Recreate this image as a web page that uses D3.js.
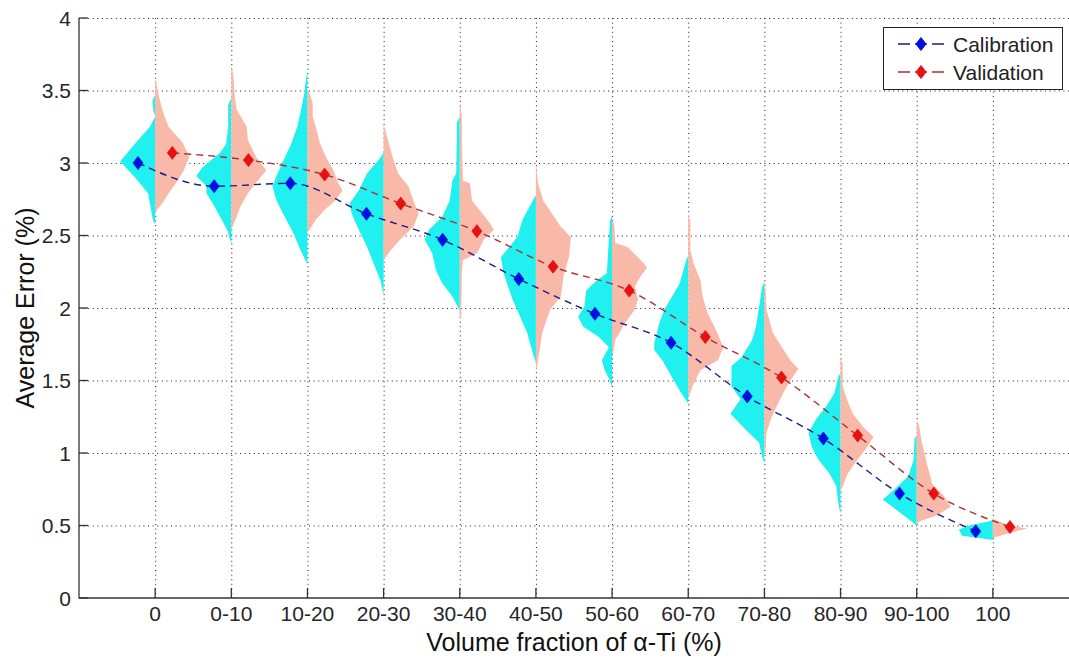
<!DOCTYPE html>
<html lang="en">
<head>
<meta charset="UTF-8">
<title>Average Error vs Volume fraction of alpha-Ti</title>
<script src="https://d3js.org/d3.v7.min.js"></script>
<style>
    body { margin: 0; background: #fff; }
    svg { display: block; font-family: "Liberation Sans", Arial, sans-serif; }
    .tick-label { fill: #262626; font-size: 21px; }
    .axis-title { fill: #111; font-size: 25px; }
    .legend-text { fill: #222; font-size: 21px; }
</style>
</head>
<body>
<div id="chart"></div>
<script>
// ---- data ----
const categories = ["0", "0-10", "10-20", "20-30", "30-40", "40-50", "50-60", "60-70", "70-80", "80-90", "90-100", "100"];
const seriesNames = ["Calibration", "Validation"];
const calMean = [3.00, 2.84, 2.86, 2.65, 2.47, 2.20, 1.96, 1.76, 1.39, 1.10, 0.72, 0.46];
const valMean = [3.07, 3.02, 2.92, 2.72, 2.53, 2.285, 2.12, 1.80, 1.52, 1.12, 0.72, 0.49];
const yTicks = [0, 0.5, 1, 1.5, 2, 2.5, 3, 3.5, 4];

// density profiles, [error value, relative density]
const calDensity = [
    [[3.47,0],[3.43,0.08],[3.36,0.05],[3.32,0],[3.25,0.15],[3.13,0.59],[3.01,1.0],[2.906,0.59],[2.79,0.2],[2.72,0.15],[2.6,0.06],[2.58,0]],
    [[3.45,0],[3.40,0.09],[3.25,0.09],[3.13,0.15],[3.07,0.32],[2.97,0.82],[2.91,1.0],[2.84,0.71],[2.79,0.71],[2.72,0.53],[2.63,0.32],[2.54,0.12],[2.44,0]],
    [[3.64,0],[3.55,0.06],[3.48,0.09],[3.37,0.18],[3.25,0.29],[3.13,0.47],[3.02,0.68],[2.93,0.85],[2.84,1.0],[2.74,0.88],[2.63,0.65],[2.52,0.41],[2.40,0.2],[2.30,0]],
    [[3.08,0],[3.04,0.08],[2.93,0.47],[2.81,0.71],[2.72,0.97],[2.65,0.91],[2.54,0.71],[2.42,0.47],[2.31,0.29],[2.19,0.09],[2.09,0]],
    [[3.32,0],[3.28,0.08],[2.93,0.1],[2.88,0.21],[2.74,0.29],[2.63,0.5],[2.54,0.88],[2.47,1.0],[2.38,0.79],[2.26,0.68],[2.17,0.5],[2.08,0.21],[1.98,0]],
    [[2.78,0],[2.74,0.09],[2.61,0.38],[2.49,0.53],[2.35,1.0],[2.24,0.92],[2.15,0.8],[2.06,0.67],[1.94,0.45],[1.83,0.25],[1.69,0.09],[1.62,0]],
    [[2.64,0],[2.60,0.06],[2.24,0.15],[2.19,0.44],[2.12,0.74],[2.01,0.79],[1.94,0.97],[1.87,0.82],[1.80,0.38],[1.73,0.09],[1.64,0.29],[1.57,0.21],[1.50,0.06],[1.45,0]],
    [[2.36,0],[2.33,0.06],[2.17,0.24],[1.99,0.68],[1.90,0.82],[1.76,0.97],[1.71,0.97],[1.64,0.74],[1.55,0.53],[1.43,0.24],[1.34,0]],
    [[2.18,0],[2.15,0.06],[2.01,0.15],[1.87,0.24],[1.78,0.35],[1.66,0.65],[1.60,0.94],[1.46,0.94],[1.37,0.68],[1.27,0.97],[1.16,0.53],[1.07,0.15],[0.97,0.06],[0.93,0]],
    [[1.55,0],[1.53,0.06],[1.41,0.18],[1.32,0.41],[1.23,0.71],[1.14,0.91],[1.04,0.82],[0.95,0.62],[0.86,0.32],[0.77,0.12],[0.70,0.09],[0.61,0.03],[0.58,0]],
    [[1.12,0],[1.10,0.06],[0.95,0.09],[0.84,0.24],[0.74,0.68],[0.68,0.97],[0.61,0.59],[0.54,0.21],[0.50,0]],
    [[0.54,0],[0.53,0.09],[0.50,0.68],[0.47,0.97],[0.43,0.88],[0.41,0.29],[0.40,0]]
];
const valDensity = [
    [[3.60,0],[3.48,0.09],[3.37,0.2],[3.25,0.38],[3.14,0.79],[3.04,0.97],[2.95,0.82],[2.86,0.59],[2.79,0.38],[2.72,0.2],[2.68,0.06],[2.65,0]],
    [[3.68,0],[3.60,0.06],[3.48,0.09],[3.37,0.15],[3.25,0.44],[3.16,0.47],[3.04,0.71],[2.95,1.0],[2.88,0.76],[2.79,0.47],[2.70,0.26],[2.61,0.12],[2.54,0]],
    [[3.50,0],[3.48,0.06],[3.41,0.15],[3.32,0.15],[3.23,0.26],[3.14,0.35],[3.04,0.53],[2.95,0.74],[2.86,0.88],[2.81,1.0],[2.74,0.79],[2.68,0.5],[2.61,0.24],[2.54,0.06],[2.52,0]],
    [[3.27,0],[3.16,0.12],[3.04,0.26],[2.93,0.41],[2.84,0.71],[2.74,0.85],[2.65,1.0],[2.56,0.85],[2.47,0.47],[2.40,0.21],[2.35,0.06],[2.33,0]],
    [[3.43,0],[3.32,0.06],[3.16,0.06],[2.88,0.09],[2.86,0.29],[2.74,0.35],[2.65,0.65],[2.58,0.88],[2.54,0.97],[2.47,0.68],[2.38,0.5],[2.33,0.09],[2.26,0.06],[1.93,0.04],[1.92,0]],
    [[3.00,0],[2.86,0.06],[2.74,0.21],[2.56,0.71],[2.49,1.0],[2.35,0.94],[2.22,0.79],[2.08,0.71],[1.99,0.41],[1.83,0.18],[1.64,0.06],[1.56,0]],
    [[2.60,0],[2.58,0.06],[2.45,0.09],[2.42,0.44],[2.33,0.82],[2.28,1.0],[2.22,0.82],[2.15,0.65],[2.06,0.74],[1.99,0.65],[1.89,0.35],[1.78,0.09],[1.69,0.03],[1.68,0]],
    [[2.65,0],[2.60,0.06],[2.40,0.06],[2.31,0.15],[2.19,0.35],[2.08,0.41],[1.96,0.56],[1.85,0.79],[1.73,1.0],[1.64,0.85],[1.57,0.35],[1.46,0.12],[1.37,0]],
    [[2.20,0],[2.10,0.04],[1.99,0.06],[1.83,0.24],[1.73,0.5],[1.64,0.74],[1.58,0.97],[1.50,0.74],[1.41,0.53],[1.32,0.35],[1.25,0.21],[1.14,0.06],[1.00,0.03],[0.97,0]],
    [[1.65,0],[1.62,0.06],[1.46,0.06],[1.37,0.18],[1.27,0.35],[1.18,0.65],[1.11,0.94],[1.04,0.76],[0.95,0.47],[0.86,0.21],[0.77,0.06],[0.74,0]],
    [[1.22,0],[1.20,0.06],[1.07,0.15],[0.93,0.29],[0.79,0.44],[0.70,0.79],[0.63,0.97],[0.57,0.59],[0.53,0.09],[0.51,0]],
    [[0.55,0],[0.54,0.06],[0.50,0.5],[0.48,0.97],[0.45,0.5],[0.42,0.09],[0.41,0]]
];

// ---- layout ----
const W = 1069, H = 658;
const plot = {left: 79, right: 1069, top: 18, bottom: 598};

const svg = d3.select("#chart").append("svg")
    .attr("width", W)
    .attr("height", H);

const x = d3.scalePoint().domain(categories).range([plot.left, plot.right]).padding(1);
const y = d3.scaleLinear().domain([0, 4]).range([plot.bottom, plot.top]);

const step = x.step();
const violinW = 0.46 * step;
const markOff = 0.225 * step;

const cyan = "#20f0ef", salmon = "#f8b9a9";
const blueLine = "#1b1b8a", redLine = "#a83236";
const blueMark = "#0010e0", redMark = "#e81010";

// grid
const grid = svg.append("g").attr("stroke", "#1a1a1a").attr("stroke-width", 1).attr("stroke-dasharray", "1,3.6");
grid.selectAll("line.h").data(yTicks.filter(d => d > 0)).enter().append("line")
    .attr("x1", plot.left).attr("x2", plot.right)
    .attr("y1", d => y(d) + 0.5).attr("y2", d => y(d) + 0.5);
grid.selectAll("line.v").data(categories).enter().append("line")
    .attr("x1", d => x(d) + 0.5).attr("x2", d => x(d) + 0.5)
    .attr("y1", plot.top).attr("y2", plot.bottom);

// violins
const violin = (cx, side) => d3.area()
    .y(d => y(d[0]))
    .x0(cx)
    .x1(d => cx + side * d[1] * violinW);

const vg = svg.append("g");
categories.forEach((c, i) => {
    vg.append("path").datum(calDensity[i])
        .attr("d", violin(x(c), -1))
        .attr("fill", cyan);
    vg.append("path").datum(valDensity[i])
        .attr("d", violin(x(c), 1))
        .attr("fill", salmon);
});

// mean lines
const diamond = (cx, cy) => `M${cx},${cy - 6.5}L${cx + 5},${cy}L${cx},${cy + 6.5}L${cx - 5},${cy}Z`;

const series = [
    {name: seriesNames[0], values: calMean, off: -markOff, line: blueLine, mark: blueMark},
    {name: seriesNames[1], values: valMean, off: markOff, line: redLine, mark: redMark}
];

const lineGen = d3.line().curve(d3.curveMonotoneX);
series.forEach(s => {
    const pts = categories.map((c, i) => [x(c) + s.off, y(s.values[i])]);
    svg.append("path")
        .attr("d", lineGen(pts))
        .attr("fill", "none")
        .attr("stroke", s.line)
        .attr("stroke-width", 1.4)
        .attr("stroke-dasharray", "7,5");
    svg.append("g").selectAll("path").data(pts).enter().append("path")
        .attr("d", d => diamond(d[0], d[1]))
        .attr("fill", s.mark)
        .attr("stroke", s.mark)
        .attr("stroke-width", 0.8);
});

// axes
const axes = svg.append("g").attr("stroke", "#333").attr("stroke-width", 1.3);
axes.append("line").attr("x1", plot.left).attr("x2", plot.left).attr("y1", plot.top).attr("y2", plot.bottom + 0.5);
axes.append("line").attr("x1", plot.left).attr("x2", plot.right).attr("y1", plot.bottom).attr("y2", plot.bottom);
axes.selectAll("line.yt").data(yTicks).enter().append("line")
    .attr("x1", plot.left).attr("x2", plot.left + 9)
    .attr("y1", d => y(d)).attr("y2", d => y(d));
axes.selectAll("line.xt").data(categories).enter().append("line")
    .attr("x1", d => x(d)).attr("x2", d => x(d))
    .attr("y1", plot.bottom).attr("y2", plot.bottom - 10);

svg.append("g").selectAll("text").data(yTicks).enter().append("text")
    .attr("class", "tick-label")
    .attr("x", plot.left - 8)
    .attr("y", d => y(d))
    .attr("dy", "0.36em")
    .attr("text-anchor", "end")
    .text(d => String(d));

svg.append("g").selectAll("text").data(categories).enter().append("text")
    .attr("class", "tick-label")
    .attr("x", d => x(d))
    .attr("y", 621)
    .attr("text-anchor", "middle")
    .text(d => d);

svg.append("text")
    .attr("class", "axis-title")
    .attr("x", (plot.left + plot.right) / 2)
    .attr("y", 651)
    .attr("text-anchor", "middle")
    .text("Volume fraction of α-Ti (%)");

svg.append("text")
    .attr("class", "axis-title")
    .attr("transform", `translate(34,${(plot.top + plot.bottom) / 2}) rotate(-90)`)
    .attr("text-anchor", "middle")
    .text("Average Error (%)");

// legend
const lg = svg.append("g").attr("transform", "translate(883,27)");
lg.append("rect")
    .attr("x", 0.5).attr("y", 0.5)
    .attr("width", 179).attr("height", 62)
    .attr("fill", "#fff")
    .attr("stroke", "#222")
    .attr("stroke-width", 1);

series.forEach((s, i) => {
    const ly = 17 + i * 28;
    lg.append("line")
        .attr("x1", 15).attr("x2", 65)
        .attr("y1", ly).attr("y2", ly)
        .attr("stroke", s.line)
        .attr("stroke-width", 1.4)
        .attr("stroke-dasharray", "12,5");
    lg.append("path")
        .attr("d", diamond(38, ly))
        .attr("fill", s.mark)
        .attr("stroke", s.mark);
    lg.append("text")
        .attr("class", "legend-text")
        .attr("x", 70)
        .attr("y", ly)
        .attr("dy", "0.36em")
        .text(s.name);
});
</script>
</body>
</html>
